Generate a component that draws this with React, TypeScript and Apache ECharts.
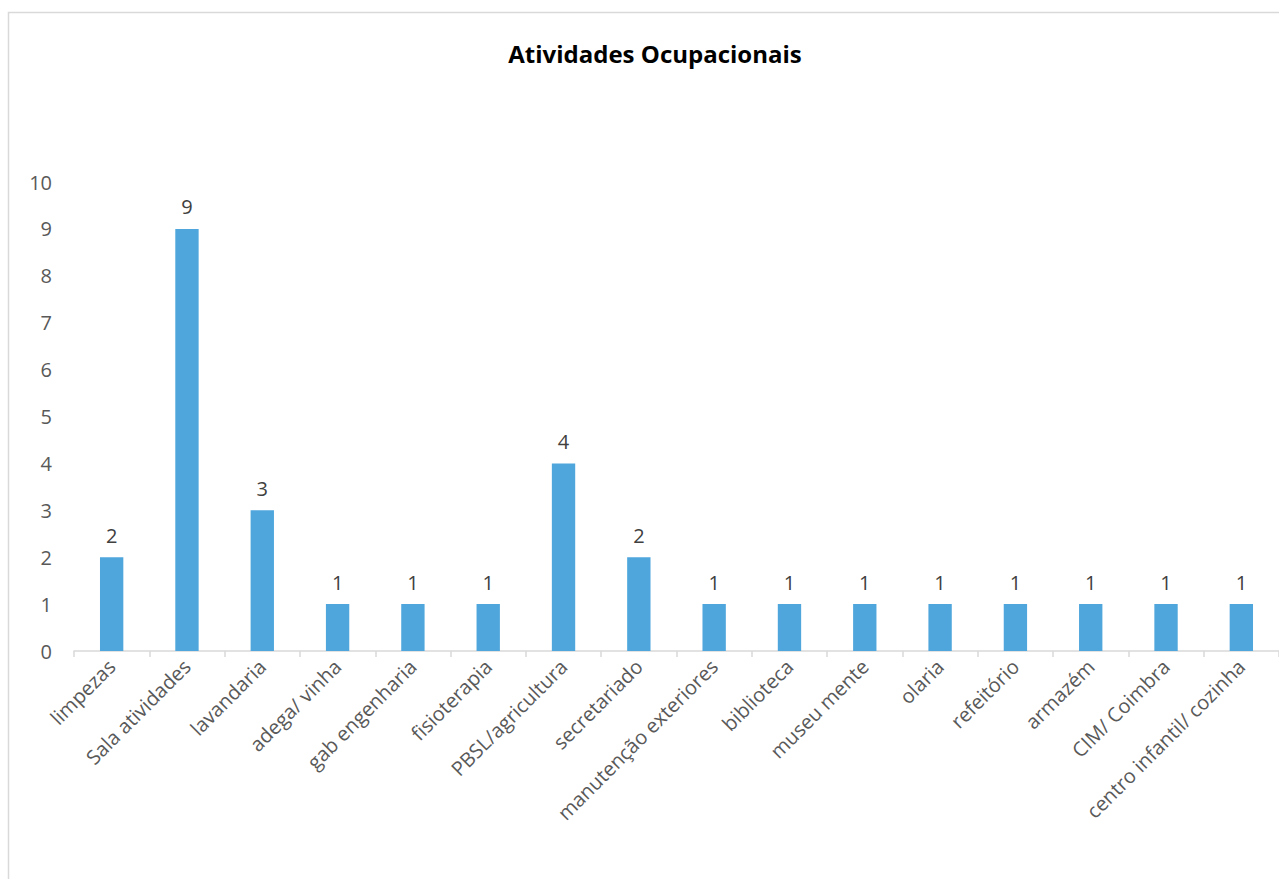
import React, { useEffect, useRef } from "react";
import * as echarts from "echarts";

const categories = [
  "limpezas",
  "Sala atividades",
  "lavandaria",
  "adega/ vinha",
  "gab engenharia",
  "fisioterapia",
  "PBSL/agricultura",
  "secretariado",
  "manutenção exteriores",
  "biblioteca",
  "museu mente",
  "olaria",
  "refeitório",
  "armazém",
  "CIM/ Coimbra",
  "centro infantil/ cozinha",
];
const values = [2, 9, 3, 1, 1, 1, 4, 2, 1, 1, 1, 1, 1, 1, 1, 1];
const title = "Atividades Ocupacionais";

const FONT = "'Open Sans', 'Noto Sans', sans-serif";

export default function App() {
  const ref = useRef<HTMLDivElement>(null);
  useEffect(() => {
    const chart = echarts.init(ref.current!, null, { renderer: "svg" });
    chart.setOption({
      animation: false,
      backgroundColor: "#ffffff",
      title: {
        text: title,
        left: 650,
        textAlign: "center",
        top: 36,
        textStyle: { fontFamily: FONT, fontSize: 24, fontWeight: "bold", color: "#000000" },
      },
      graphic: [
        {
          type: "rect",
          shape: { x: 8.5, y: 12.5, width: 1300, height: 900 },
          style: { fill: "none", stroke: "#d9d9d9", lineWidth: 1.5 },
          silent: true,
        },
      ],
      grid: { left: 74, top: 182, width: 1208, bottom: 228, containLabel: false },
      xAxis: {
        type: "category",
        data: categories,
        axisLine: { lineStyle: { color: "#d9d9d9", width: 1.5 } },
        axisTick: { show: true, alignWithLabel: false, length: 6, lineStyle: { color: "#d9d9d9", width: 1.5 } },
        axisLabel: { rotate: 45, interval: 0, fontFamily: FONT, fontSize: 20, color: "#595959", margin: 12 },
        splitLine: { show: false },
      },
      yAxis: {
        type: "value",
        min: 0,
        max: 10,
        interval: 1,
        axisLine: { show: false },
        axisTick: { show: false },
        splitLine: { show: false },
        axisLabel: { fontFamily: FONT, fontSize: 20, color: "#595959", margin: 22 },
      },
      series: [
        {
          type: "bar",
          data: values,
          barWidth: "31%",
          itemStyle: { color: "#4EA6DC" },
          label: {
            show: true,
            position: "top",
            distance: 12,
            fontFamily: FONT,
            fontSize: 20,
            color: "#404040",
          },
        },
      ],
    });
    return () => chart.dispose();
  }, []);
  return (
    <div
      ref={ref}
      style={{ position: "fixed", left: 0, top: 0, width: 1279, height: 879 }}
    />
  );
}
